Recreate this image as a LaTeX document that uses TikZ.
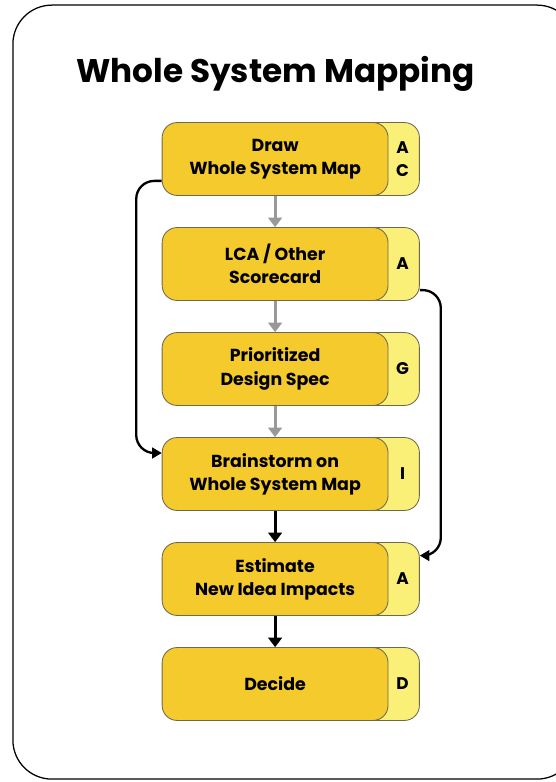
\documentclass[tikz,border=0pt]{standalone}
\usepackage{fontspec}
\setmainfont{Poppins}
\usetikzlibrary{arrows.meta}

\definecolor{stepgold}{RGB}{244,202,44}
\definecolor{tabyellow}{RGB}{250,240,120}
\definecolor{edgegray}{RGB}{110,104,80}

\begin{document}
\begin{tikzpicture}[
    stepbox/.style={draw=edgegray, line width=0.8pt, fill=stepgold, rounded corners=0.5cm,
        minimum width=7.53cm, minimum height=2.43cm, align=center,
        font=\bfseries\fontsize{16.5}{22}\selectfont},
    tabbox/.style={draw=edgegray, line width=0.8pt, fill=tabyellow, rounded corners=0.5cm,
        minimum width=2.7cm, minimum height=2.43cm},
    tabtext/.style={align=center, font=\bfseries\fontsize{16}{22}\selectfont},
    flow/.style={line width=2.8pt, -{Triangle[width=13pt,length=9pt]}},
    loop/.style={line width=2.2pt, rounded corners=0.6cm, -{Triangle[width=10pt,length=9pt]}}
]
    \useasboundingbox (0, 0) rectangle (18.533, -26.067);
    \draw[line width=1.2pt, rounded corners=1.3cm] (0.43, -0.17) rectangle (19.2, -25.97);

    \node[font=\bfseries\fontsize{31}{36}\selectfont] (title) at (9.18, -2.45) {Whole System Mapping};

    % tabs behind the steps
    \node[tabbox] (t1) at (12.63, -5.3) {};
    \node[tabbox] (t2) at (12.63, -8.8) {};
    \node[tabbox] (t3) at (12.63, -12.3) {};
    \node[tabbox] (t4) at (12.63, -15.8) {};
    \node[tabbox] (t5) at (12.63, -19.3) {};
    \node[tabbox] (t6) at (12.63, -22.8) {};

    \node[tabtext] (l1) at (13.42, -5.3) {A\\C};
    \node[tabtext] (l2) at (13.42, -8.8) {A};
    \node[tabtext] (l3) at (13.42, -12.3) {G};
    \node[tabtext] (l4) at (13.42, -15.8) {I};
    \node[tabtext] (l5) at (13.42, -19.3) {A};
    \node[tabtext] (l6) at (13.42, -22.8) {D};

    \node[stepbox] (s1) at (9.17, -5.3) {Draw\\Whole System Map};
    \node[stepbox] (s2) at (9.17, -8.8) {LCA / Other\\Scorecard};
    \node[stepbox] (s3) at (9.17, -12.3) {Prioritized\\Design Spec};
    \node[stepbox] (s4) at (9.17, -15.8) {Brainstorm on\\Whole System Map};
    \node[stepbox] (s5) at (9.17, -19.3) {Estimate\\New Idea Impacts};
    \node[stepbox] (s6) at (9.17, -22.8) {Decide};

    \draw[flow, black!40] (s1) -- (s2);
    \draw[flow, black!40] (s2) -- (s3);
    \draw[flow, black!40] (s3) -- (s4);
    \draw[flow] (s4) -- (s5);
    \draw[flow] (s5) -- (s6);

    \draw[loop] ([yshift=-0.73cm]s1.west) -- ++(-0.85, 0) |- ([yshift=0.7cm]s4.west);
    \draw[loop] ([yshift=-0.87cm]t2.east) -- ++(0.7, 0) |- ([yshift=0.78cm]t5.east);
\end{tikzpicture}
\end{document}
